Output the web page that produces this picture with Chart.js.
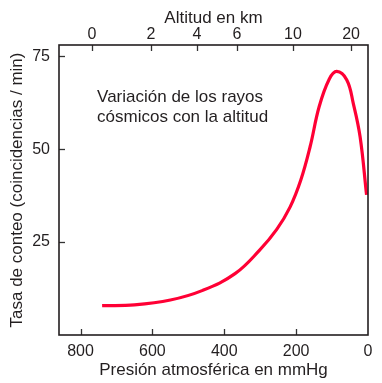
<!DOCTYPE html>
<html><head><meta charset="utf-8">
<script src="https://cdn.jsdelivr.net/npm/chart.js@4/dist/chart.umd.min.js"></script>
<style>html,body{margin:0;padding:0;background:#fff;}#wrap{width:382px;height:383px;}</style>
</head><body><div id="wrap"><canvas id="c" width="382" height="383"></canvas></div>
<script>
const pressure = [740,650,550,460,370,301,254,217,187,161,136,108,87,59,41,22,4];
const countRate = [7.9,8.1,9.4,12.0,16.5,22.9,28.4,34.4,41.7,50.7,61.4,68.8,70.9,68.6,62.3,53.3,37.7];
const pressureTicks = [0,200,400,600,800];
const rateTicks = [25,50,75];
const altitudeKm = [0,2,4,6,10,20];
const altitudePressure = [768,604,476,365,209,47];
const noteLines = ['Variación de los rayos','cósmicos con la altitud'];
const noteAnchor = {p:754, rates:[64,58.5]};

const FONT = "'Liberation Sans', Arial, Helvetica, sans-serif";
const TXT = '#231f20';

const inwardTicks = {
  id:'inwardTicks',
  afterDraw(chart){
    const ctx = chart.ctx, a = chart.chartArea, L = 6;
    ctx.save();
    ctx.strokeStyle = '#333'; ctx.lineWidth = 1.3;
    const sx = chart.scales.x, sx2 = chart.scales.x2, sy = chart.scales.y;
    sx.ticks.forEach(t=>{ const px=Math.round(sx.getPixelForValue(t.value))+0.5; if(px>a.left+1&&px<a.right-1){ctx.beginPath();ctx.moveTo(px,a.bottom);ctx.lineTo(px,a.bottom-L);ctx.stroke();}});
    sx2.ticks.forEach(t=>{ const px=Math.round(sx2.getPixelForValue(t.value))+0.5; ctx.beginPath();ctx.moveTo(px,a.top);ctx.lineTo(px,a.top+L);ctx.stroke();});
    sy.ticks.forEach(t=>{ const py=Math.round(sy.getPixelForValue(t.value))+0.5; ctx.beginPath();ctx.moveTo(a.left,py);ctx.lineTo(a.left+L,py);ctx.stroke();});
    ctx.strokeStyle = '#231f20'; ctx.lineWidth = 1.6;
    ctx.strokeRect(a.left, a.top, a.right-a.left, a.bottom-a.top);
    ctx.fillStyle = TXT; ctx.font = '17px '+FONT; ctx.textAlign='left'; ctx.textBaseline='middle';
    noteLines.forEach((s,i)=>ctx.fillText(s, sx.getPixelForValue(noteAnchor.p), sy.getPixelForValue(noteAnchor.rates[i])));
    ctx.restore();
  }
};

new Chart(document.getElementById('c'), {
  type:'line',
  data:{ datasets:[{ data: pressure.map((p,i)=>({x:p,y:countRate[i]})), borderColor:'#ff0035', borderWidth:3.2, pointRadius:0, tension:0.4, fill:false }]},
  options:{
    responsive:false, animation:false,
    layout:{padding:{right:14,left:0,top:0,bottom:0}},
    plugins:{legend:{display:false}, tooltip:{enabled:false}},
    scales:{
      x:{ type:'linear', position:'bottom', reverse:true, min:0, max:860,
        afterBuildTicks(s){ s.ticks = pressureTicks.map(v=>({value:v})); },
        afterFit(s){ s.height = 48; },
        grid:{display:false, drawTicks:false}, border:{display:false},
        ticks:{ color:TXT, font:{family:FONT,size:16}, padding:7, maxRotation:0 },
        title:{ display:true, text:'Presión atmosférica en mmHg', color:TXT, font:{family:FONT,size:17}, padding:{top:0,bottom:2} } },
      x2:{ type:'linear', position:'top', reverse:true, min:0, max:860,
        afterBuildTicks(s){ s.ticks = altitudePressure.map(v=>({value:v})); },
        afterFit(s){ s.height = 45; },
        grid:{display:false, drawTicks:false}, border:{display:false},
        ticks:{ color:TXT, font:{family:FONT,size:16}, padding:1, maxRotation:0,
          callback(v){ const i = altitudePressure.indexOf(v); return i>=0 ? String(altitudeKm[i]) : ''; } },
        title:{ display:true, text:'Altitud en km', color:TXT, font:{family:FONT,size:17}, padding:{top:8,bottom:0} } },
      y:{ type:'linear', min:0, max:78,
        afterBuildTicks(s){ s.ticks = rateTicks.map(v=>({value:v})); },
        afterFit(s){ s.width = 59; },
        grid:{display:false, drawTicks:false}, border:{display:false},
        ticks:{ color:TXT, font:{family:FONT,size:16}, padding:9 },
        title:{ display:true, text:'Tasa de conteo (coincidencias / min)', color:TXT, font:{family:FONT,size:17}, padding:{top:7,bottom:0} } }
    }
  },
  plugins:[inwardTicks]
});
</script></body></html>
